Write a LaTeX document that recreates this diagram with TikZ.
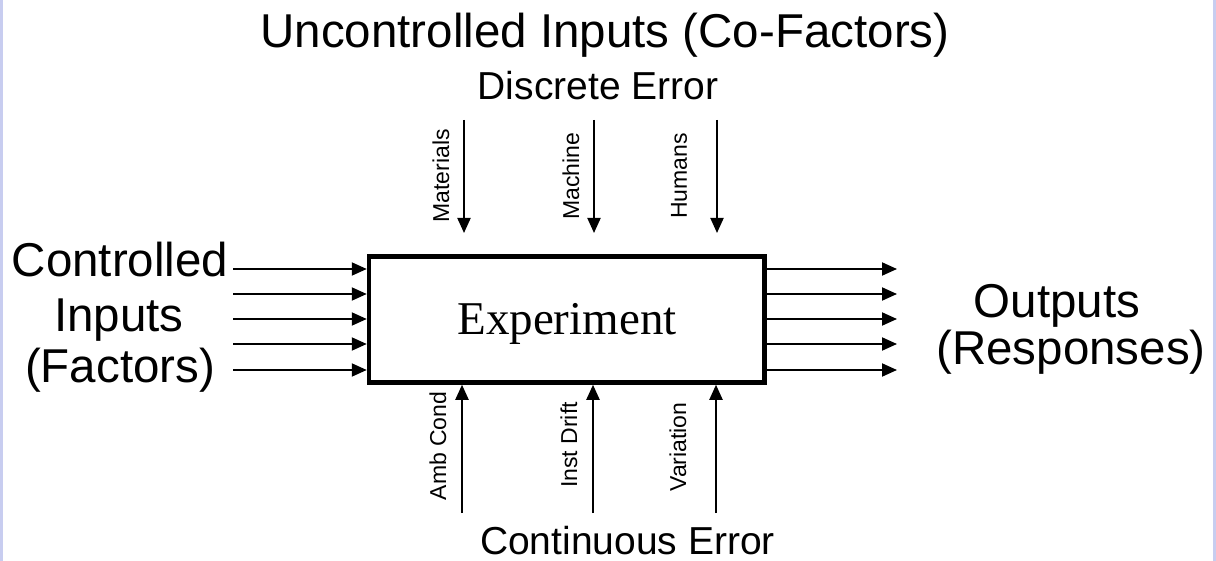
\documentclass[tikz,border=0pt]{standalone}
\usepackage{fontspec}
\setmainfont{Liberation Sans}
\newfontfamily\tnrfont{Liberation Serif}
\usetikzlibrary{arrows.meta}
\definecolor{edgeblue}{RGB}{200,205,240}
\tikzset{
  big/.style={font=\fontsize{47.5}{50}\selectfont, inner sep=0pt, anchor=base},
  mid/.style={font=\fontsize{39}{42}\selectfont, inner sep=0pt, anchor=base},
  small/.style={font=\fontsize{23}{25}\selectfont, inner sep=0pt, rotate=90, anchor=center},
  arr/.style={line width=2pt, -{Triangle[length=15pt,width=13pt]}},
  expbox/.style={draw, line width=4.5pt, minimum width=395.5pt, minimum height=126pt, inner sep=0pt}
}
\begin{document}
\begin{tikzpicture}[x=1pt,y=1pt]
\useasboundingbox (0,0) rectangle (1216,-561);
\fill[edgeblue] (0,0) rectangle (3,-561);
\fill[edgeblue] (1213,0) rectangle (1216,-561);

\node[expbox] (exp) at (566.75,-319.5) {};
\node[font=\tnrfont\fontsize{47}{50}\selectfont, inner sep=0pt, anchor=base] (exptext) at (567,-335) {Experiment};

% headings
\node[big] (unc) at (605,-48) {Uncontrolled Inputs (Co-Factors)};
\node[mid] (disc) at (598,-100) {Discrete Error};
\node[mid] (cont) at (627.5,-554.5) {Continuous Error};
\node[big] (ci1) at (120,-277) {Controlled};
\node[big] (ci2) at (119,-332) {Inputs};
\node[big] (ci3) at (120,-382) {(Factors)};
\node[big] (out1) at (1057,-318) {Outputs};
\node[big] (out2) at (1071,-364) {(Responses)};

% rotated labels
\node[small] (mat) at (441,-176) {Materials};
\node[small] (mach) at (571,-176) {Machine};
\node[small] (hum) at (679,-176) {Humans};
\node[small] (amb) at (438,-446) {Amb Cond};
\node[small] (inst) at (569,-445) {Inst Drift};
\node[small] (var) at (678,-447) {Variation};

% top arrows
\foreach \x/\n in {464/t1,594/t2,717/t3}{
  \coordinate (\n s) at (\x,-120);
  \coordinate (\n e) at (\x,-233);
  \draw[arr] (\n s) -- (\n e);
}
% bottom arrows
\foreach \x/\n in {462/b1,593/b2,716/b3}{
  \coordinate (\n s) at (\x,-513);
  \draw[arr] (\n s) -- (\n s |- exp.south);
}
% left and right arrows
\foreach \y/\n in {269/r1,294/r2,319/r3,344/r4,370/r5}{
  \coordinate (\n l) at (233,-\y);
  \coordinate (\n r) at (897,-\y);
  \draw[arr] (\n l) -- (\n l -| exp.west);
  \draw[arr] (\n l -| exp.east) -- (\n r);
}
\end{tikzpicture}
\end{document}
